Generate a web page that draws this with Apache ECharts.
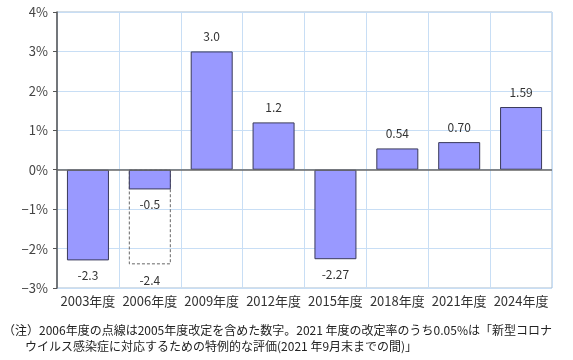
<!DOCTYPE html>
<html><head><meta charset="utf-8">
<script src="https://cdn.jsdelivr.net/npm/echarts@6/dist/echarts.min.js"></script>
<style>html,body{margin:0;padding:0;background:#fff}#c{width:573px;height:360px}</style>
</head><body><div id="c"></div>
<script>
const categories = ['2003年度','2006年度','2009年度','2012年度','2015年度','2018年度','2021年度','2024年度'];
const values = [-2.3, -0.5, 3.0, 1.2, -2.27, 0.54, 0.70, 1.59];
const valueLabels = ['-2.3','-0.5','3.0','1.2','-2.27','0.54','0.70','1.59'];
const dashedValues = [null, -2.4, null, null, null, null, null, null];
const dashedLabels = ['', '-2.4', '', '', '', '', '', ''];
const noteLines = ['（注）2006年度の点線は2005年度改定を含めた数字。2021 年度の改定率のうち0.05%は「新型コロナ','ウイルス感染症に対応するための特例的な評価(2021 年9月末までの間)」'];

const font = '"Noto Sans CJK JP", "Noto Sans", sans-serif';
const chart = echarts.init(document.getElementById('c'));
const barData = values.map(v => ({
  value: v,
  label: v < 0 ? {position: 'bottom', distance: 9} : {position: 'top', distance: 9}
}));
chart.setOption({
  animation: false,
  textStyle: {fontFamily: font},
  grid: {left: 57, right: 21, top: 12, bottom: 72, show: true, borderColor: '#a9bccf', borderWidth: 1},
  xAxis: {
    type: 'category', data: categories,
    axisLine: {show: false},
    axisTick: {show: false},
    splitLine: {show: true, interval: 0, lineStyle: {color: '#c8def5', width: 1}},
    axisLabel: {color: '#333', fontSize: 13, margin: 7, interval: 0, fontFamily: font}
  },
  yAxis: {
    type: 'value', min: -3, max: 4, interval: 1,
    axisLine: {show: true, lineStyle: {color: '#555', width: 1.5}},
    axisTick: {show: true, length: 4, lineStyle: {color: '#555'}},
    splitLine: {show: true, lineStyle: {color: '#c8def5', width: 1}},
    axisLabel: {color: '#444', fontSize: 13, margin: 9, formatter: v => (v < 0 ? '−' + Math.abs(v) : v) + '%', fontFamily: font}
  },
  series: [
    {
      type: 'bar', data: dashedValues, barWidth: 42, z: 1,
      itemStyle: {color: 'rgba(0,0,0,0)', borderColor: '#666', borderWidth: 1, borderType: [3, 2]},
      label: {show: true, position: 'bottom', distance: 10, color: '#333', fontSize: 12,
        formatter: p => dashedLabels[p.dataIndex]}
    },
    {
      type: 'bar', data: barData, barWidth: 42, barGap: '-100%', z: 3,
      itemStyle: {color: '#9999ff', borderColor: '#3a3a5a', borderWidth: 1},
      label: {show: true, color: '#333', fontSize: 12,
        formatter: p => valueLabels[p.dataIndex]},
      markLine: {
        silent: true, symbol: 'none', label: {show: false},
        lineStyle: {color: '#666', width: 1.5, type: 'solid'},
        data: [{yAxis: 0}]
      }
    }
  ],
  graphic: [
    {type: 'text', left: 3, top: 324, style: {text: noteLines[0], font: '12px ' + font, fill: '#222'}},
    {type: 'text', left: 25, top: 340, style: {text: noteLines[1], font: '12px ' + font, fill: '#222'}}
  ]
});
</script></body></html>
